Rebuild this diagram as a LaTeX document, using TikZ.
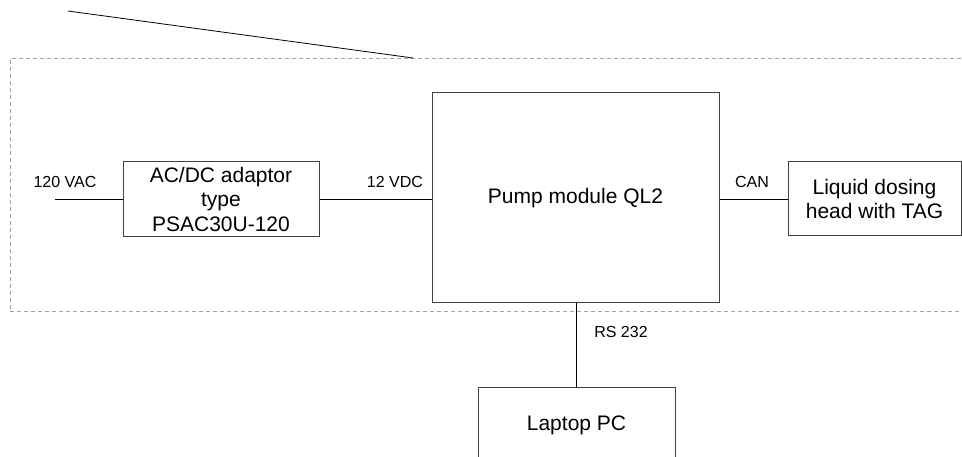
\documentclass[tikz,border=0pt]{standalone}
\usepackage{fontspec}
\setmainfont{Liberation Sans}
\usepackage{tikz}

\definecolor{bordergray}{RGB}{150,168,160}

\begin{document}
\begin{tikzpicture}[x=1pt, y=-1pt,
  box/.style={draw=black!75, line width=1pt, align=center, inner sep=0pt,
    font=\fontsize{21}{24.5}\selectfont},
  wire/.style={draw=black, line width=0.9pt},
  lbl/.style={inner sep=0pt, font=\fontsize{16}{18}\selectfont},
  boundary/.style={draw=bordergray, line width=1pt, dash pattern=on 4pt off 3pt}]
\useasboundingbox (0,0) rectangle (962,457);

% system boundary
\draw[boundary] (975,59) -- (10,59) -- (10,312) -- (975,312);
\coordinate (callout) at (68,11);
\coordinate (calloutend) at (413,58);
\draw[wire, line width=0.8pt] (callout) -- (calloutend);

\node[box, minimum width=196pt, minimum height=75pt] (adaptor) at (221,199) {AC/DC adaptor\\type\\PSAC30U-120};
\node[box, minimum width=287pt, minimum height=210pt] (pump) at (575.5,198) {Pump module QL2};
\node[box, minimum width=173pt, minimum height=74pt] (head) at (874.5,199) {Liquid dosing\\head with TAG};
\node[box, minimum width=197pt, minimum height=76pt] (laptop) at (576.5,425) {Laptop PC};

\coordinate (mains) at (55,199);
\draw[wire] (mains) -- (adaptor.west);
\draw[wire] (adaptor.east) -- (adaptor.east -| pump.west);
\draw[wire] (head.west -| pump.east) -- (head.west);
\draw[wire] (pump.south -| laptop.north) -- (laptop.north);

\node[lbl] (vac) at (65,182) {120 VAC};
\node[lbl] (vdc) at (395,182) {12 VDC};
\node[lbl] (can) at (752,182) {CAN};
\node[lbl] (rs) at (621,332) {RS 232};
\end{tikzpicture}
\end{document}
